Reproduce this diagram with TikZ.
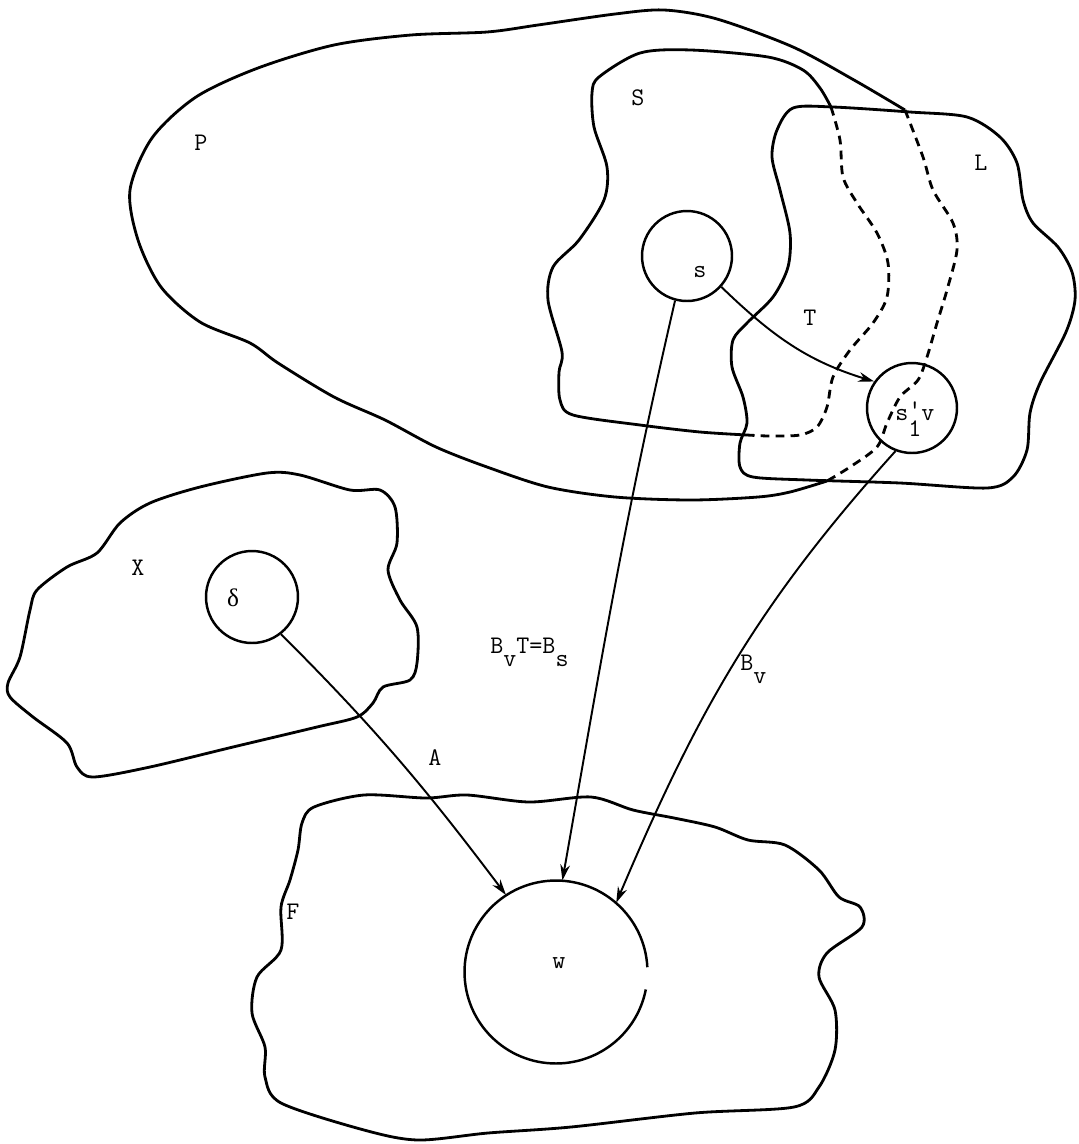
\documentclass[tikz,border=0pt]{standalone}
\usepackage{fontspec}
\newfontfamily\greekfont{Liberation Serif}
\usetikzlibrary{arrows.meta}

\begin{document}
\begin{tikzpicture}[x=0.02cm, y=-0.02cm,
  region/.style={line width=1.6pt, line join=round},
  hidden/.style={region, dash pattern=on 5pt off 3.5pt},
  ball/.style={circle, draw, line width=1.4pt, inner sep=0pt},
  map/.style={line width=1.1pt, -{Stealth[length=9pt, width=5.5pt]}},
  tag/.style={font=\Large\ttfamily, inner sep=0pt}]

% Fix the page to the size of the drawing
\useasboundingbox (0,0) rectangle (1079,1144);

% Region P: solid outline, dashed where it runs inside L
\draw[region] plot[smooth] coordinates {(827,481) (790,492) (758,497) (691,500) (615,497) (548,487) (487,467) (436,447) (385,420) (334,397) (278,363) (250,343) (200,322) (161,287) (138,240) (130,190) (152,138) (196,97) (258,68) (334,45) (411,35) (487,32) (538,25) (615,14) (664,10) (717,19) (793,47) (854,80) (905,110)};
\draw[hidden] plot[smooth] coordinates {(905,110) (923,157) (933,190) (953,223) (957,250) (947,290) (937,323) (927,357) (918,380) (900,397) (887,423) (877,447) (850,467) (827,481)};

% Region S: solid outline, dashed inside L
\draw[region] plot[smooth] coordinates {(747,435) (700,432) (640,425) (573,415) (560,400) (559,372) (562,352) (548,300) (553,267) (579,240) (604,200) (607,167) (594,127) (592,93) (599,77) (640,53) (691,50) (768,57) (803,70) (820,88) (831,107)};
\draw[hidden] plot[smooth] coordinates {(831,107) (840,140) (843,177) (857,203) (877,233) (888,263) (887,297) (873,323) (850,350) (833,377) (827,407) (817,427) (800,435) (770,436) (747,435)};

% Region L
\draw[region] plot[smooth cycle] coordinates {(793,108) (833,107) (910,112) (967,117) (1000,137) (1017,163) (1023,200) (1033,223) (1058,247) (1072,272) (1075,300) (1066,332) (1040,383) (1030,413) (1027,450) (1013,477) (987,488) (900,483) (807,480) (753,477) (740,467) (740,443) (747,423) (743,397) (732,367) (733,340) (747,323) (773,297) (788,267) (790,233) (780,190) (772,157) (777,130)};

% Region X
\draw[region] plot[smooth cycle] coordinates {(8,683) (20,657) (30,610) (37,590) (67,567) (97,553) (120,523) (150,503) (200,487) (267,473) (300,475) (350,490) (380,490) (395,507) (397,543) (388,570) (400,600) (417,627) (417,663) (410,680) (383,687) (373,703) (357,717) (317,727) (233,747) (150,767) (93,777) (77,767) (67,743) (33,717) (10,697)};

% Region F
\draw[region] plot[smooth cycle] coordinates {(314,807) (364,795) (426,798) (467,795) (529,802) (591,797) (633,810) (674,818) (715,827) (748,840) (785,845) (819,870) (839,897) (860,907) (862,927) (827,953) (819,977) (835,1010) (835,1050) (819,1087) (794,1107) (695,1113) (571,1127) (488,1133) (418,1140) (364,1130) (281,1103) (265,1077) (265,1047) (252,1013) (257,977) (281,950) (281,907) (290,880) (298,850) (302,823)};

% The small discs
\node[ball, minimum size=1.8cm] (s) at (687,256) {};
\node[ball, minimum size=1.8cm] (s1v) at (912,408) {};
\node[ball, minimum size=1.84cm] (d) at (252,597) {};

% The disc w, open on its right side
\node[circle, inner sep=0pt, minimum size=3.66cm] (w) at (556,972) {};
\draw[line width=1.4pt] ([shift={(3:1.83cm)}]w.center) arc[start angle=3, end angle=349, radius=1.83cm];

% Maps between the discs
\draw[map] (s.-42) to[out=-44, in=163] (s1v.145);
\draw[map] (s.-105) to[out=-103, in=80] (w.86);
\draw[map] (s1v.-111) to[out=-132, in=67] (w.49);
\draw[map] (d.-52) to[out=-45, in=127] (w.123);

% Region names
\node[tag] (P) at (201,143) {P};
\node[tag] (S) at (638,98) {S};
\node[tag] (L) at (981,163) {L};
\node[tag] (T) at (810,318) {T};
\node[tag] (X) at (138,568) {X};
\node[tag] (F) at (293,912) {F};

% Disc names
\node[tag] (sl) at (700,272) {s};
\node[tag] (wl) at (559,963) {w};
\node[tag] (dl) at (233,598) {\greekfont δ};
\node[tag, anchor=base west] (s1vl) at (895,420) {s\rlap{\raisebox{0.1em}{'}}\raisebox{-0.65em}{1}v};

% Map names
\node[tag] (A) at (435,758) {A};
\node[tag, anchor=base west] (BvT) at (490,653) {B\raisebox{-0.55em}{v}T=B\raisebox{-0.55em}{s}};
\node[tag, anchor=base west] (Bv) at (740,670) {B\raisebox{-0.55em}{v}};

\end{tikzpicture}
\end{document}
